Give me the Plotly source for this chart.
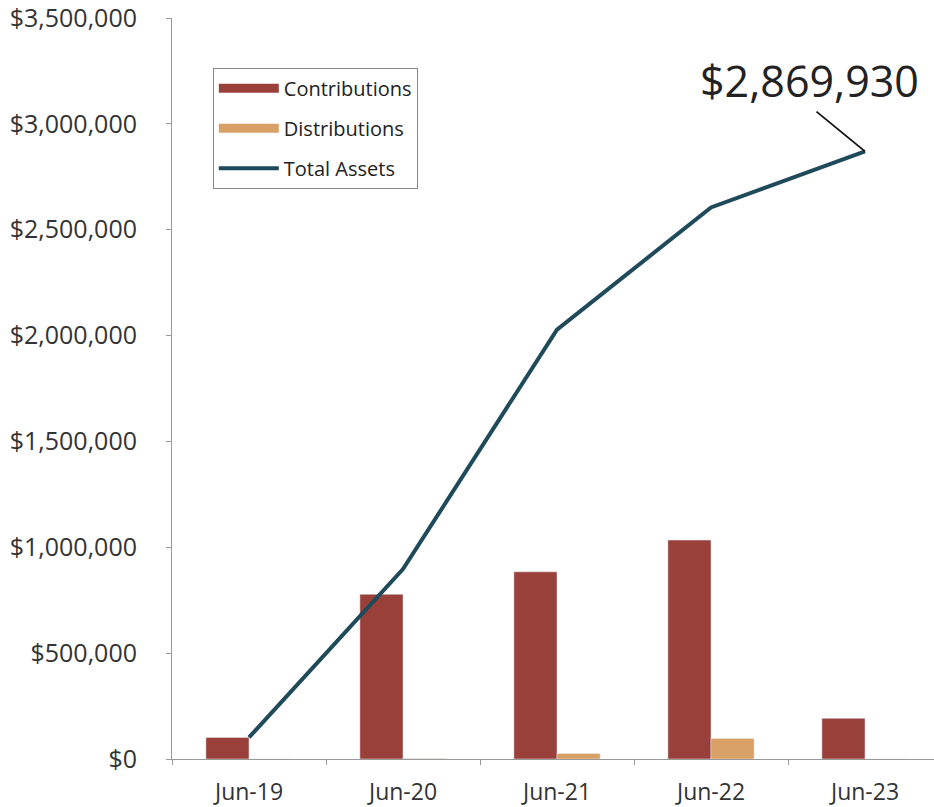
import plotly.graph_objects as go

periods = ["Jun-19", "Jun-20", "Jun-21", "Jun-22", "Jun-23"]
contributions = [102000, 778000, 884000, 1034000, 192000]
distributions = [0, 2000, 26000, 97000, 0]
total_assets = [102000, 897000, 2028000, 2605000, 2869930]

FONT = "Open Sans"
C_CONTRIB = "#9a403b"
C_DISTRIB = "#d9a066"
C_ASSETS = "#1f4a5a"

fig = go.Figure()
fig.add_trace(go.Bar(x=periods, y=contributions, name="Contributions",
                     marker_color=C_CONTRIB, showlegend=False))
fig.add_trace(go.Bar(x=periods, y=distributions, name="Distributions",
                     marker_color=C_DISTRIB, showlegend=False))
fig.add_trace(go.Scatter(x=periods, y=total_assets, name="Total Assets", mode="lines",
                         line=dict(color=C_ASSETS, width=4), showlegend=False))

# legend entries with wide swatches like the original
for name, color, w in [("Contributions", C_CONTRIB, 9),
                       ("Distributions", C_DISTRIB, 9),
                       ("Total Assets", C_ASSETS, 4)]:
    fig.add_trace(go.Scatter(x=[None], y=[None], mode="lines", name=name,
                             line=dict(color=color, width=w), legendgroup=name))

# leader line and the label of the last value
fig.add_annotation(x=periods[-1], y=total_assets[-1], text="", showarrow=True,
                   arrowhead=0, arrowwidth=1.8, arrowcolor="#111", ax=-50, ay=-41)
fig.add_annotation(x=periods[-1], y=total_assets[-1], text=f"${total_assets[-1]:,}",
                   showarrow=False, xshift=-56, yshift=71,
                   font=dict(family=FONT, size=43, color="#222"))

fig.update_layout(
    width=942, height=807,
    margin=dict(l=172, r=0, t=18, b=48, autoexpand=False),
    paper_bgcolor="white", plot_bgcolor="white",
    font=dict(family=FONT, size=22, color="#333"),
    barmode="group", bargap=0.44, bargroupgap=0,
    showlegend=True,
    legend=dict(x=0.053, y=0.933, xanchor="left", yanchor="top",
                bordercolor="#888", borderwidth=1, bgcolor="white",
                font=dict(size=20, color="#222"), tracegroupgap=11,
                traceorder="grouped", itemwidth=60),
)
fig.update_yaxes(range=[0, 3500000], dtick=500000, tickprefix="$", tickformat=",",
                 showgrid=False, showline=True, linecolor="#999", linewidth=1,
                 ticks="outside", ticklen=5, tickcolor="#999", ticklabelstandoff=24,
                 zeroline=False, automargin=False, tickfont=dict(size=25),
                 ticklabeloverflow="allow")
fig.update_xaxes(showgrid=False, showline=True, linecolor="#999", linewidth=1,
                 ticks="outside", ticklen=5, tickcolor="#999", tickson="boundaries",
                 ticklabelstandoff=12, automargin=False, tickfont=dict(size=23))

fig.write_html("out.html", config={"displayModeBar": False},
               post_script="document.body.style.margin='0';")
